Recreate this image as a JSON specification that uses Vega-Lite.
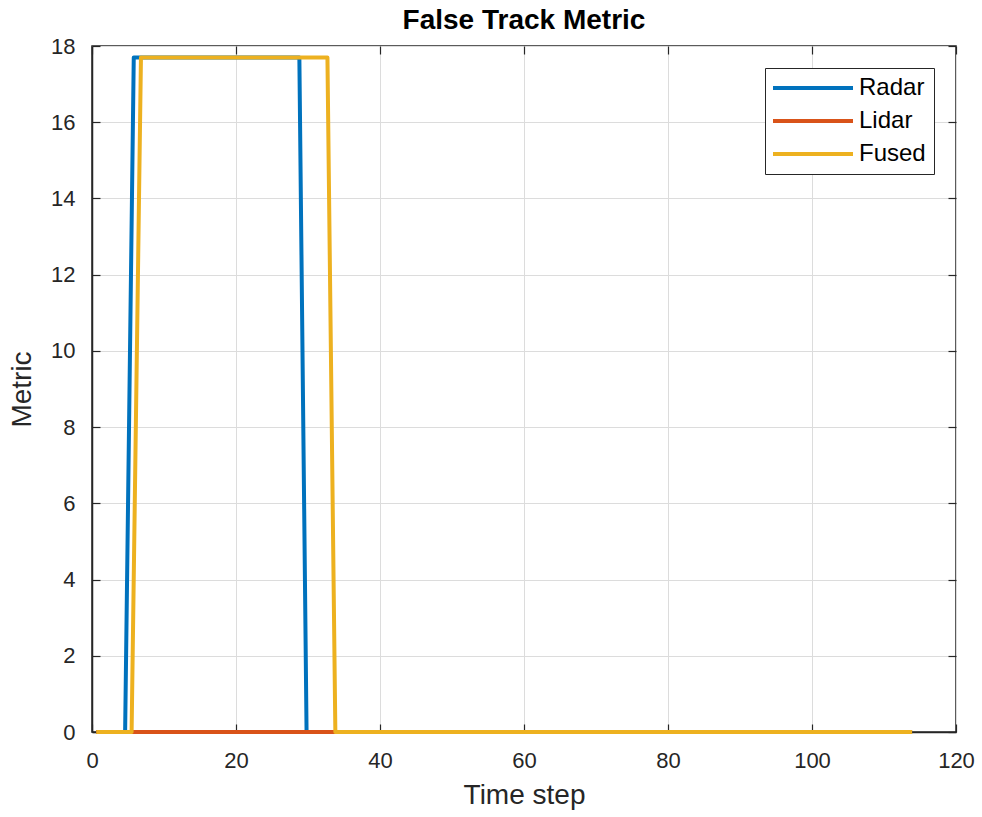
{
  "$schema": "https://vega.github.io/schema/vega-lite/v6.json",
  "width": 864,
  "height": 686,
  "autosize": "none",
  "padding": {"left": 92, "top": 46, "right": 26, "bottom": 85},
  "background": "white",
  "title": {"text": "False Track Metric", "font": "Liberation Sans", "fontSize": 28, "fontWeight": "bold", "color": "#000000", "anchor": "middle", "offset": 0},
  "config": {
    "font": "Liberation Sans",
    "view": {"stroke": "#262626", "strokeWidth": 1.5},
    "axis": {
      "labelFont": "Liberation Sans", "labelFontSize": 22, "labelColor": "#262626",
      "titleFont": "Liberation Sans", "titleFontSize": 28, "titleColor": "#262626", "titleFontWeight": "normal",
      "domainColor": "#262626", "domainWidth": 1.5, "tickColor": "#262626", "tickSize": -8, "tickWidth": 1.2,
      "gridColor": "#dcdcdc", "gridWidth": 1, "labelFlush": false
    }
  },
  "data": {"values": [
    {"t": 0.6, "value": 0, "series": "Radar"},
    {"t": 4.6, "value": 0, "series": "Radar"},
    {"t": 5.8, "value": 17.7, "series": "Radar"},
    {"t": 28.8, "value": 17.7, "series": "Radar"},
    {"t": 29.8, "value": 0, "series": "Radar"},
    {"t": 113.9, "value": 0, "series": "Radar"},
    {"t": 0.6, "value": 0, "series": "Lidar"},
    {"t": 113.9, "value": 0, "series": "Lidar"},
    {"t": 0.6, "value": 0, "series": "Fused"},
    {"t": 5.5, "value": 0, "series": "Fused"},
    {"t": 6.8, "value": 17.7, "series": "Fused"},
    {"t": 32.7, "value": 17.7, "series": "Fused"},
    {"t": 33.8, "value": 0, "series": "Fused"},
    {"t": 113.9, "value": 0, "series": "Fused"}
  ]},
  "layer": [
    {
      "mark": {"type": "line", "strokeWidth": 4, "strokeJoin": "round", "clip": false},
      "encoding": {
        "x": {"field": "t", "type": "quantitative", "scale": {"domain": [0, 120], "nice": false, "zero": false},
              "axis": {"orient": "bottom", "title": "Time step", "values": [0, 20, 40, 60, 80, 100, 120], "labelPadding": 26, "titlePadding": 10}},
        "y": {"field": "value", "type": "quantitative", "scale": {"domain": [0, 18], "nice": false},
              "axis": {"orient": "left", "title": "Metric", "values": [0, 2, 4, 6, 8, 10, 12, 14, 16, 18], "labelPadding": 25, "titlePadding": 14}},
        "color": {"field": "series", "type": "nominal",
                  "scale": {"domain": ["Radar", "Lidar", "Fused"], "range": ["#0072BD", "#D95319", "#EDB120"]},
                  "legend": {"title": null, "orient": "top-right", "offset": 22, "symbolType": "M-4,0H4", "symbolSize": 400, "symbolStrokeWidth": 4,
                             "symbolOffset": 28, "labelOffset": 34,
                             "labelFont": "Liberation Sans", "labelFontSize": 24, "labelColor": "#000000",
                             "strokeColor": "#262626", "fillColor": "white", "padding": 8, "rowPadding": 9}},
        "order": {"field": "t"}
      }
    },
    {
      "mark": {"type": "line", "opacity": 0},
      "encoding": {
        "x": {"field": "t", "type": "quantitative", "axis": {"orient": "top", "title": null, "labels": false, "domain": false, "grid": false, "values": [0, 20, 40, 60, 80, 100, 120]}},
        "y": {"field": "value", "type": "quantitative", "axis": {"orient": "right", "title": null, "labels": false, "domain": false, "grid": false, "values": [0, 2, 4, 6, 8, 10, 12, 14, 16, 18]}},
        "detail": {"field": "series"}
      }
    }
  ],
  "resolve": {"axis": {"x": "independent", "y": "independent"}}
}
